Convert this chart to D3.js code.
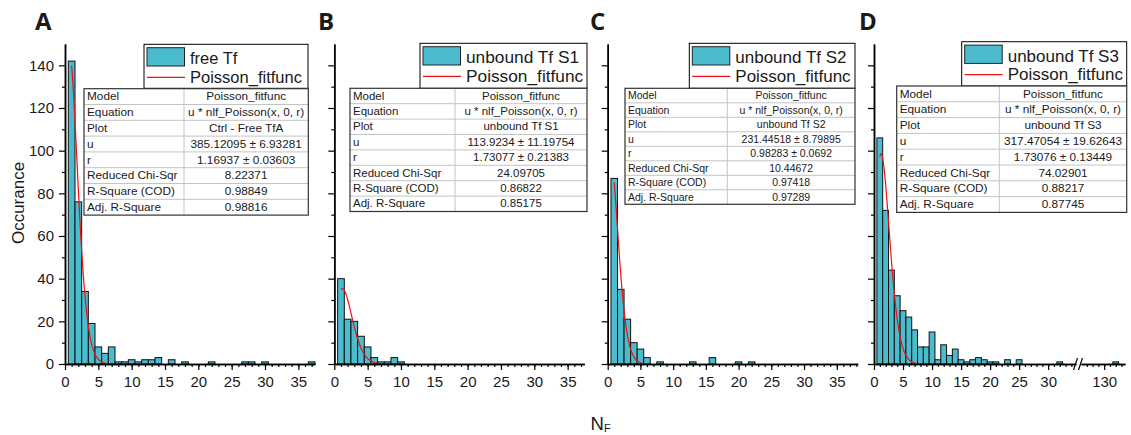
<!DOCTYPE html>
<html>
<head>
<meta charset="utf-8">
<title>Poisson histograms</title>
<script src="https://d3js.org/d3.v7.min.js"></script>
<style>
    body { margin: 0; background: #ffffff; }
    text { font-family: "Liberation Sans", Arial, sans-serif; fill: #1a1a1a; }
    .axis path, .axis line { stroke: #000; }
    .axis path { stroke-width: 1.5; }
    .axis line { stroke-width: 1.2; }
</style>
</head>
<body>
<script>
    // ---- data ----
    const panelLetters = ["A", "B", "C", "D"];
    const seriesNames = ["free Tf", "unbound Tf S1", "unbound Tf S2", "unbound Tf S3"];
    const fitName = "Poisson_fitfunc";

    const nA = [1, 2, 3, 4, 5, 6, 7, 8, 9, 10, 11, 12, 13, 14, 16, 18, 22, 27, 28, 30, 37];
    const countA = [142, 76, 34, 19, 8, 5, 8, 1, 1, 2, 1, 2, 2, 3, 2, 1, 1, 1, 1, 1, 1];
    const nB = [1, 2, 3, 4, 5, 6, 7, 8, 9, 10];
    const countB = [40, 21, 20, 13, 8, 3, 1, 1, 3, 1];
    const nC = [1, 2, 3, 4, 5, 6, 8, 13, 16, 20, 22];
    const countC = [87, 35, 21, 10, 7, 3, 1, 1, 3, 1, 1];
    const nD = [1, 2, 3, 4, 5, 6, 7, 8, 9, 10, 11, 12, 13, 14, 15, 16, 17, 18, 19, 20, 21, 23, 25, 32, 132];
    const countD = [106, 72, 44, 32, 25, 22, 16, 8, 8, 15, 2, 9, 4, 7, 2, 1, 2, 3, 2, 1, 1, 2, 2, 1, 1];

    const tableLabels = ["Model", "Equation", "Plot", "u", "r", "Reduced Chi-Sqr", "R-Square (COD)", "Adj. R-Square"];
    const tableA = ["Poisson_fitfunc", "u * nlf_Poisson(x, 0, r)", "Ctrl - Free TfA", "385.12095 ± 6.93281", "1.16937 ± 0.03603", "8.22371", "0.98849", "0.98816"];
    const tableB = ["Poisson_fitfunc", "u * nlf_Poisson(x, 0, r)", "unbound Tf S1", "113.9234 ± 11.19754", "1.73077 ± 0.21383", "24.09705", "0.86822", "0.85175"];
    const tableC = ["Poisson_fitfunc", "u * nlf_Poisson(x, 0, r)", "unbound Tf S2", "231.44518 ± 8.79895", "0.98283 ± 0.0692", "10.44672", "0.97418", "0.97289"];
    const tableD = ["Poisson_fitfunc", "u * nlf_Poisson(x, 0, r)", "unbound Tf S3", "317.47054 ± 19.62643", "1.73076 ± 0.13449", "74.02901", "0.88217", "0.87745"];

    // x range over which each fit curve is drawn
    const fitStart = [1, 1, 1, 1];
    const fitEnd = [6.1, 6.4, 5.2, 7.2];

    const yTicks = [0, 20, 40, 60, 80, 100, 120, 140];
    const xTicks = [0, 5, 10, 15, 20, 25, 30, 35];
    const xTicksD = [0, 5, 10, 15, 20, 25, 30];
    const xTicksD2 = [130];

    const counts = [[nA, countA], [nB, countB], [nC, countC], [nD, countD]];
    const tables = [tableA, tableB, tableC, tableD];

    // ---- layout ----
    const width = 1131, height = 435;
    const barFill = "#4bbccd";
    const fitColor = "#f01010";

    const svg = d3.select("body").append("svg")
        .attr("width", width)
        .attr("height", height);

    const y = d3.scaleLinear().domain([0, 150]).range([364, 44]);

    // D has a broken axis: two linear pieces
    const xD1 = d3.scaleLinear().domain([0, 34.8]).range([874, 1076]);
    const xD2 = d3.scaleLinear().domain([126, 133.6]).range([1081, 1125]);
    const xD = v => v <= 35 ? xD1(v) : xD2(v);

    const panels = [
        { x: d3.scaleLinear().domain([0, 37.5]).range([65, 315]), letterX: 35,
          leg: { x: 144, y: 44.3, w: 164, h: 44, fs: 16.5 },
          tab: { x: 84, y: 88.7, w: 224.3, div: 184, rh: 15.8, fs: 11.8 } },
        { x: d3.scaleLinear().domain([0, 37.5]).range([334.3, 584.3]), letterX: 318,
          leg: { x: 420, y: 43.3, w: 167, h: 45, fs: 17.3 },
          tab: { x: 350, y: 88.3, w: 237, div: 455, rh: 15.4, fs: 11.5 } },
        { x: d3.scaleLinear().domain([0, 38.2]).range([607.7, 857.7]), letterX: 590,
          leg: { x: 689.3, y: 43.3, w: 165.7, h: 45, fs: 17 },
          tab: { x: 625, y: 88.3, w: 230, div: 727.3, rh: 14.5, fs: 10.5 } },
        { x: xD, letterX: 859,
          leg: { x: 961.7, y: 41.7, w: 165, h: 44.3, fs: 17 },
          tab: { x: 896.7, y: 86, w: 230, div: 999.3, rh: 15.8, fs: 11.8 } }
    ];

    // Lanczos gamma for the Poisson fit curve
    function gamma(z) {
        const g = 7;
        const c = [0.99999999999980993, 676.5203681218851, -1259.1392167224028,
            771.32342877765313, -176.61502916214059, 12.507343278686905,
            -0.13857109526572012, 9.9843695780195716e-6, 1.5056327351493116e-7];
        if (z < 0.5) return Math.PI / (Math.sin(Math.PI * z) * gamma(1 - z));
        z -= 1;
        let a = c[0];
        const t = z + g + 0.5;
        for (let i = 1; i < g + 2; i++) a += c[i] / (z + i);
        return Math.sqrt(2 * Math.PI) * Math.pow(t, z + 0.5) * Math.exp(-t) * a;
    }

    function minorAxis(g, scale, values, size) {
        g.call(d3.axisBottom(scale).tickValues(values).tickSize(size).tickFormat("").tickSizeOuter(0));
    }

    panels.forEach(function (p, i) {
        const g = svg.append("g");
        const [ns, cs] = counts[i];
        const bins = ns.map((n, k) => ({ n: n, c: cs[k] }));

        // bars
        g.selectAll("rect.bar")
            .data(bins)
            .enter()
            .append("rect")
            .attr("class", "bar")
            .attr("x", d => p.x(d.n - 0.5))
            .attr("width", d => p.x(d.n + 0.5) - p.x(d.n - 0.5))
            .attr("y", d => y(d.c))
            .attr("height", d => y(0) - y(d.c))
            .attr("fill", barFill)
            .attr("stroke", "#111")
            .attr("stroke-width", 1);

        // fit curve from table parameters
        const u = parseFloat(tables[i][3]);
        const r = parseFloat(tables[i][4]);
        const pts = d3.range(fitStart[i], fitEnd[i] + 0.001, 0.05)
            .map(x => [x, u * Math.pow(r, x) * Math.exp(-r) / gamma(x + 1)]);
        g.append("path")
            .datum(pts)
            .attr("fill", "none")
            .attr("stroke", fitColor)
            .attr("stroke-width", 1.2)
            .attr("d", d3.line().x(d => p.x(d[0])).y(d => y(d[1])).curve(d3.curveMonotoneX));

        // y axis
        const x0 = i === 3 ? 874 : p.x.range()[0];
        const ya = g.append("g").attr("class", "axis").attr("transform", "translate(" + x0 + ",0)");
        ya.call(d3.axisLeft(y).tickValues(yTicks).tickSize(6).tickPadding(5).tickSizeOuter(0)
            .tickFormat(i === 0 ? d3.format("d") : ""));
        ya.append("g").call(d3.axisLeft(y).tickValues(d3.range(10, 150, 20)).tickSize(3).tickFormat("").tickSizeOuter(0));
        ya.selectAll("text").attr("font-size", 15).attr("fill", "#1a1a1a")
            .style("font-family", '"Liberation Sans", Arial, sans-serif');

        // x axis
        if (i < 3) {
            const xa = g.append("g").attr("class", "axis").attr("transform", "translate(0,364)");
            const dmax = p.x.domain()[1];
            xa.append("g").call(s => minorAxis(s, p.x, d3.range(1, Math.floor(dmax) + 1), 3));
            xa.append("g").call(d3.axisBottom(p.x).tickValues(xTicks).tickSize(6).tickPadding(6).tickSizeOuter(0));
        } else {
            const xa = g.append("g").attr("class", "axis").attr("transform", "translate(0,364)");
            xa.append("g").call(s => minorAxis(s, xD1, d3.range(1, 35), 3));
            xa.append("g").call(d3.axisBottom(xD1).tickValues(xTicksD).tickSize(6).tickPadding(6).tickSizeOuter(0));
            xa.append("g").call(s => minorAxis(s, xD2, d3.range(127, 134), 3));
            xa.append("g").call(d3.axisBottom(xD2).tickValues(xTicksD2).tickSize(6).tickPadding(6).tickSizeOuter(0));
            // break marks
            [1073.5, 1078.5].forEach(function (bx) {
                xa.append("line")
                    .attr("x1", bx).attr("y1", 6)
                    .attr("x2", bx + 4).attr("y2", -6)
                    .attr("stroke", "#000").attr("stroke-width", 1.3);
            });
        }
        g.selectAll(".axis text").attr("font-size", 15).attr("fill", "#1a1a1a")
            .style("font-family", '"Liberation Sans", Arial, sans-serif');

        // panel letter
        svg.append("text")
            .attr("x", p.letterX).attr("y", 29.5)
            .attr("font-size", 24).attr("font-weight", "bold")
            .style("font-family", '"Open Sans", sans-serif')
            .text(panelLetters[i]);

        // legend
        const L = p.leg;
        const lg = g.append("g");
        lg.append("rect").attr("x", L.x).attr("y", L.y).attr("width", L.w).attr("height", L.h)
            .attr("fill", "#fff").attr("stroke", "#000").attr("stroke-width", 1);
        lg.append("rect").attr("x", L.x + 3).attr("y", L.y + 3.4).attr("width", 37.5).attr("height", 18.3)
            .attr("fill", barFill).attr("stroke", "#222").attr("stroke-width", 1);
        lg.append("line").attr("x1", L.x + 3).attr("x2", L.x + 41).attr("y1", L.y + 33).attr("y2", L.y + 33)
            .attr("stroke", fitColor).attr("stroke-width", 1.2);
        lg.append("text").attr("x", L.x + 46).attr("y", L.y + 20).attr("font-size", L.fs).text(seriesNames[i]);
        lg.append("text").attr("x", L.x + 46).attr("y", L.y + 38.5).attr("font-size", L.fs).text(fitName);

        // results table
        const T = p.tab;
        const tg = g.append("g");
        const th = T.rh * tableLabels.length;
        tg.append("rect").attr("x", T.x).attr("y", T.y).attr("width", T.w).attr("height", th)
            .attr("fill", "#fff");
        tableLabels.forEach(function (lab, k) {
            if (k > 0) {
                tg.append("line").attr("x1", T.x).attr("x2", T.x + T.w)
                    .attr("y1", T.y + k * T.rh).attr("y2", T.y + k * T.rh)
                    .attr("stroke", "#c4c4c4").attr("stroke-width", 1);
            }
            const by = T.y + k * T.rh + T.rh * 0.74;
            tg.append("text").attr("x", T.x + 3).attr("y", by).attr("font-size", T.fs).text(lab);
            tg.append("text").attr("x", (T.div + T.x + T.w) / 2).attr("y", by)
                .attr("text-anchor", "middle").attr("font-size", T.fs).text(tables[i][k]);
        });
        tg.append("line").attr("x1", T.div).attr("x2", T.div).attr("y1", T.y).attr("y2", T.y + th)
            .attr("stroke", "#c4c4c4").attr("stroke-width", 1);
        tg.append("rect").attr("x", T.x).attr("y", T.y).attr("width", T.w).attr("height", th)
            .attr("fill", "none").attr("stroke", "#333").attr("stroke-width", 1.2);
    });

    // axis titles
    svg.append("text")
        .attr("transform", "translate(24,203) rotate(-90)")
        .attr("text-anchor", "middle")
        .attr("font-size", 17)
        .text("Occurance");

    const nf = svg.append("text").attr("x", 590.5).attr("y", 429.5).attr("font-size", 18.5);
    nf.append("tspan").text("N");
    nf.append("tspan").attr("font-size", 11).attr("dy", 2).text("F");
</script>
</body>
</html>
